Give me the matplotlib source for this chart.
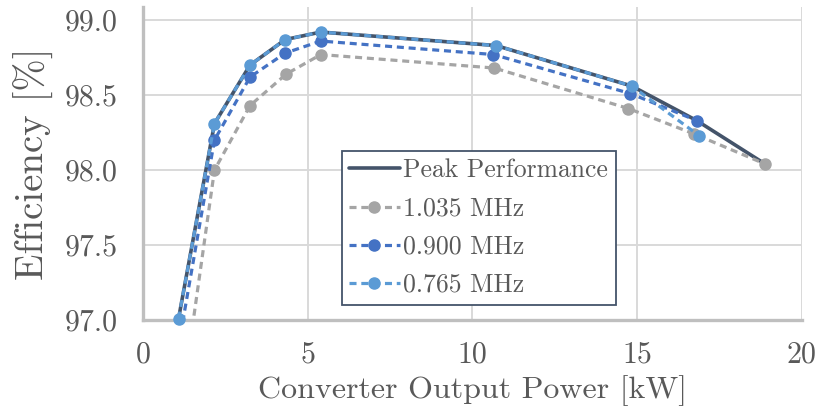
import matplotlib
matplotlib.use("Agg")
import matplotlib.pyplot as plt
from matplotlib.ticker import FixedLocator, FixedFormatter

# Efficiency vs. output power for three switching frequencies
series_names = ["Peak Performance", "1.035 MHz", "0.900 MHz", "0.765 MHz"]

peak_x = [1.08, 2.17, 3.25, 4.32, 5.40, 10.72, 14.84, 16.81, 18.89]
peak_y = [97.01, 98.31, 98.70, 98.87, 98.92, 98.83, 98.56, 98.33, 98.04]

f1035_x = [1.08, 2.17, 3.25, 4.35, 5.40, 10.67, 14.74, 16.74, 18.89]
f1035_y = [96.30, 98.00, 98.43, 98.64, 98.77, 98.68, 98.41, 98.24, 98.04]

f0900_x = [1.08, 2.17, 3.25, 4.32, 5.40, 10.64, 14.80, 16.81]
f0900_y = [96.83, 98.20, 98.62, 98.78, 98.86, 98.77, 98.51, 98.33]

f0765_x = [1.08, 2.17, 3.25, 4.32, 5.40, 10.72, 14.84, 16.88]
f0765_y = [97.01, 98.31, 98.70, 98.87, 98.92, 98.83, 98.56, 98.23]

x_ticks = [0, 5, 10, 15, 20]
x_tick_labels = ["0", "5", "10", "15", "20"]
y_ticks = [97.0, 97.5, 98.0, 98.5, 99.0]
y_tick_labels = ["97.0", "97.5", "98.0", "98.5", "99.0"]

plt.rcParams["font.family"] = ["cmr10", "DejaVu Serif"]
plt.rcParams["axes.formatter.use_mathtext"] = True

text_grey = "#595959"
c_peak = "#44546A"
c_1035 = "#A5A5A5"
c_0900 = "#4472C4"
c_0765 = "#5B9BD5"

fig = plt.figure(figsize=(8.19, 4.2), dpi=100)
ax = fig.add_axes([143 / 819, 1 - 320 / 420, (801.7 - 143) / 819, (320 - 7) / 420])

dash = (0, (2.2, 1.5))
ms = 8
lw = 2.3

ax.plot(peak_x, peak_y, color=c_peak, lw=2.6, solid_capstyle="round",
        label=series_names[0], zorder=3)
ax.plot(f1035_x, f1035_y, color=c_1035, lw=lw, ls=dash, marker="o", ms=ms,
        label=series_names[1], zorder=4)
ax.plot(f0900_x, f0900_y, color=c_0900, lw=lw, ls=dash, marker="o", ms=ms,
        label=series_names[2], zorder=5)
ax.plot(f0765_x, f0765_y, color=c_0765, lw=lw, ls=dash, marker="o", ms=ms,
        label=series_names[3], zorder=6, clip_on=False)

ax.set_xlim(0, 20)
ax.set_ylim(97.0, 99.087)

ax.xaxis.set_major_locator(FixedLocator(x_ticks))
ax.xaxis.set_major_formatter(FixedFormatter(x_tick_labels))
ax.yaxis.set_major_locator(FixedLocator(y_ticks))
ax.yaxis.set_major_formatter(FixedFormatter(y_tick_labels))

ax.grid(True, color="#D9D9D9", lw=1.4, zorder=0)
ax.set_axisbelow(True)
for side in ["top", "right"]:
    ax.spines[side].set_visible(False)
for side in ["left", "bottom"]:
    ax.spines[side].set_color("#BFBFBF")
    ax.spines[side].set_linewidth(2.4)
    ax.spines[side].set_zorder(2)

ax.tick_params(axis="both", length=0, labelsize=21.5, labelcolor=text_grey)
ax.tick_params(axis="y", pad=18)
ax.tick_params(axis="x", pad=15)

ax.set_xlabel("Converter Output Power [kW]", fontsize=23, color=text_grey, labelpad=5)
ax.set_ylabel("Efficiency [%]", fontsize=28, color=text_grey, labelpad=8)

leg = ax.legend(loc="upper left", bbox_to_anchor=((341.7 - 143) / 658.7, 1 - (151 - 7) / 313),
                fontsize=18.5, frameon=True, fancybox=False, handlelength=1.95,
                handletextpad=0.15, borderpad=0.3, labelspacing=0.56,
                borderaxespad=0)
leg.get_frame().set_edgecolor(c_peak)
leg.get_frame().set_linewidth(1.3)
leg.get_frame().set_alpha(1)
for t in leg.get_texts():
    t.set_color(text_grey)
leg.set_zorder(10)

fig.savefig("out.png", dpi=100)
